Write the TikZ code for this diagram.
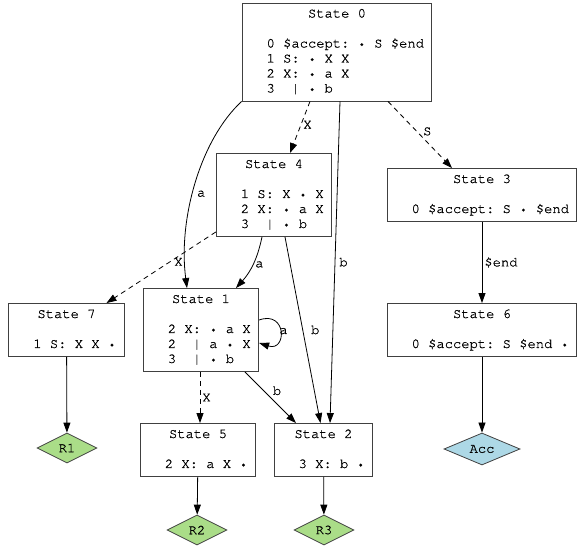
\documentclass[tikz,border=0pt]{standalone}
\usepackage{fontspec}
\setmonofont{TeX Gyre Cursor}[FakeBold=0.8]
\usetikzlibrary{arrows.meta,shapes.geometric}

\definecolor{redgreen}{RGB}{170,221,136}
\definecolor{accblue}{RGB}{173,216,230}
\newcommand{\lrstate}[2]{\begin{tabular}{@{}l@{}}\multicolumn{1}{@{}c@{}}{State #1}\\[15pt]#2\end{tabular}}
\newcommand{\itdot}{\makebox[8.28pt]{\raisebox{0.9pt}{\fontsize{9.5}{9.5}\selectfont •}}}

\begin{document}
\begin{tikzpicture}[x=1pt, y=-1pt,
    every node/.style={font=\ttfamily\fontsize{13.8}{15}\selectfont, text=black},
    state/.style={draw=black!75, line width=0.9pt, inner xsep=8pt, inner ysep=4pt},
    reduce/.style={diamond, draw=black!75, line width=0.8pt, fill=redgreen, aspect=2,
        minimum width=60pt, minimum height=30pt, inner sep=0pt},
    edge/.style={-{Triangle[length=10pt,width=7pt]}, line width=0.8pt},
    dashedge/.style={edge, dash pattern=on 5pt off 4pt},
    lbl/.style={inner sep=2pt}]
    \useasboundingbox (0,0) rectangle (582,553);
    \node[state] (s0) at (337,52) {\lrstate{0}{~~0 \$accept: \itdot{} S \$end\\ ~~1 S: \itdot{} X X\\ ~~2 X: \itdot{} a X\\ ~~3~~| \itdot{} b}};
    \node[state] (s4) at (274,195) {\lrstate{4}{~~1 S: X \itdot{} X\\ ~~2 X: \itdot{} a X\\ ~~3~~| \itdot{} b}};
    \node[state] (s3) at (482,195) {\lrstate{3}{~~0 \$accept: S \itdot{} \$end}};
    \node[state] (s7) at (66.5,330) {\lrstate{7}{~~1 S: X X \itdot}};
    \node[state] (s1) at (201,330) {\lrstate{1}{~~2 X: \itdot{} a X\\ ~~2~~| a \itdot{} X\\ ~~3~~| \itdot{} b}};
    \node[state] (s6) at (482,330) {\lrstate{6}{~~0 \$accept: S \$end \itdot}};
    \node[state] (s5) at (198,450) {\lrstate{5}{~~2 X: a X \itdot}};
    \node[state] (s2) at (323.5,450) {\lrstate{2}{~~3 X: b \itdot}};
    \node[reduce] (r1) at (67,448) {R1};
    \node[reduce] (r2) at (197,530) {R2};
    \node[reduce] (r3) at (324,530) {R3};
    \node[reduce, fill=accblue, minimum width=76pt, minimum height=32pt] (acc) at (482,449) {Acc};

    \draw[dashedge] ([xshift=-27pt]s0.south) -- node[lbl, pos=0.45, right] {X} ([xshift=16pt]s4.north);
    \draw[dashedge] ([xshift=51pt]s0.south) -- node[lbl, pos=0.45, right=4pt] {S} ([xshift=-30pt]s3.north);
    \draw[edge] (s0.south west) .. controls (200,140) and (178,220) .. node[lbl, pos=0.55, right=2pt] {a} ([xshift=-14pt]s1.north);
    \draw[edge] ([xshift=3pt]s0.south) -- node[lbl, pos=0.5, right=2pt] {b} ([xshift=6.5pt]s2.north);
    \draw[dashedge] ([yshift=5pt]s4.south west) -- node[lbl, pos=0.42, right=2pt] {X} ([xshift=40pt]s7.north);
    \draw[edge] ([xshift=-12pt]s4.south) to[bend left=15] node[lbl, right] {a} ([xshift=35pt]s1.north);
    \draw[edge] ([xshift=11pt]s4.south) -- node[lbl, pos=0.5, right=6pt] {b} ([xshift=-3pt]s2.north);
    \draw[edge] ([yshift=10pt]s1.east) .. controls (287,310) and (287,352) .. node[lbl, right=-3pt] {a} ([yshift=-13pt]s1.east);
    \draw[dashedge] ([xshift=-1pt]s1.south) -- node[lbl, right] {X} ([xshift=2pt]s5.north);
    \draw[edge] ([xshift=44pt]s1.south) -- node[lbl, pos=0.5, above right] {b} ([xshift=-27.5pt]s2.north);
    \draw[edge] (s3) -- node[lbl, right] {\$end} (s6);
    \draw[edge] (s7) -- (r1);
    \draw[edge] (s5) -- (r2);
    \draw[edge] (s2) -- (r3);
    \draw[edge] (s6) -- (acc);
\end{tikzpicture}
\end{document}
